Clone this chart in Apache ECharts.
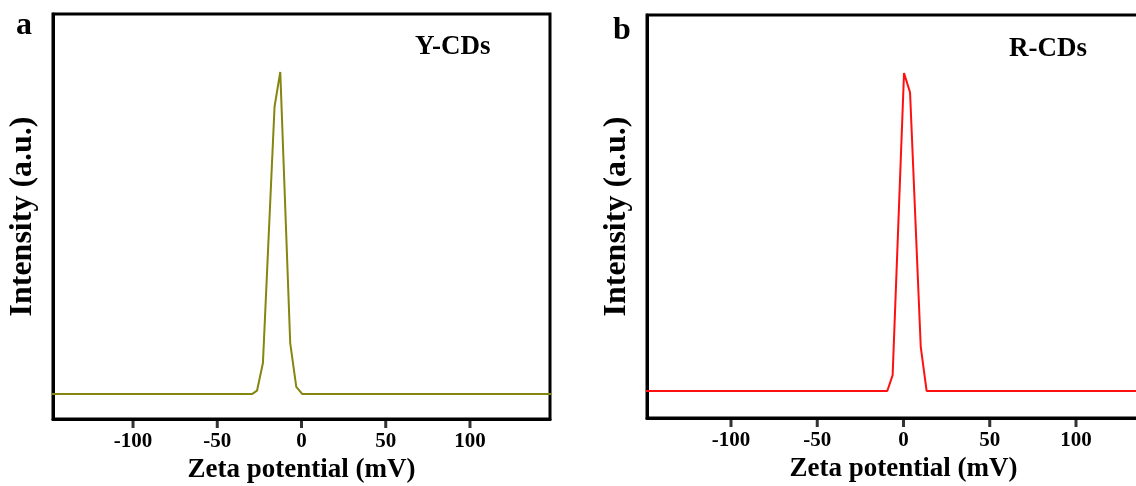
<!DOCTYPE html>
<html>
<head>
<meta charset="utf-8">
<script src="https://cdn.jsdelivr.net/npm/echarts@6/dist/echarts.min.js"></script>
<style>
html,body{margin:0;padding:0;background:#fff;}
#chart{width:1136px;height:486px;}
</style>
</head>
<body>
<div id="chart"></div>
<script>
// Data
const yCdsX = [-150, -29.2, -26.4, -22.9, -16.0, -12.6, -6.7, -3.1, 0.4, 150];
const yCdsY = [0, 0, 1.0, 9.6, 89.2, 100, 15.8, 2.2, 0, 0];
const rCdsX = [-150, -9.4, -6.3, 0.3, 3.8, 10.0, 13.4, 150];
const rCdsY = [0, 0, 5.0, 100, 93.9, 13.9, 0, 0];
const xTickValues = [-100, -50, 0, 50, 100];
const xTitle = 'Zeta potential (mV)';
const yTitle = 'Intensity (a.u.)';
const panelNames = ['Y-CDs', 'R-CDs'];
const panelLetters = ['a', 'b'];

const FONT = '"Liberation Serif", "Times New Roman", serif';
const pairs = (xs, ys) => xs.map((x, i) => [x, ys[i]]);
const tMin = xTickValues[0], tMax = xTickValues[xTickValues.length - 1], tStep = xTickValues[1] - xTickValues[0];

// main panels
const P = [
  {left: 53, top: 14, width: 497, height: 405, xmin: -147.5, xmax: 147.5, ymin: -7.8, ymax: 118},
  {left: 647, top: 15, width: 513, height: 403, xmin: -148.7, xmax: 148.7, ymin: -8.5, ymax: 118.3}
];
const TICK_LEN = 9;

const grids = [], xAxes = [], yAxes = [], series = [];
P.forEach((p, i) => {
  grids.push({left: p.left, top: p.top, width: p.width, height: p.height, show: true, borderColor: '#000', borderWidth: 3, backgroundColor: 'transparent', containLabel: false, outerBoundsMode: 'none'});
  xAxes.push({
    type: 'value', gridIndex: i, min: p.xmin, max: p.xmax,
    name: xTitle, nameLocation: 'middle', nameGap: 38,
    nameTextStyle: {fontFamily: FONT, fontWeight: 'bold', fontSize: 27, color: '#000'},
    axisLine: {show: true, onZero: false, lineStyle: {color: '#000', width: 3}},
    axisTick: {show: false}, axisLabel: {show: false}, splitLine: {show: false}
  });
  yAxes.push({
    type: 'value', gridIndex: i, min: p.ymin, max: p.ymax,
    name: yTitle, nameLocation: 'middle', nameGap: 14, nameRotate: 90,
    nameTextStyle: {fontFamily: FONT, fontWeight: 'bold', fontSize: 32, color: '#000'},
    axisLine: {show: true, onZero: false, lineStyle: {color: '#000', width: 3}},
    axisTick: {show: false}, axisLabel: {show: false}, splitLine: {show: false}
  });
});
// thin tick strips under each panel, spanning exactly the tick range on the same scale
P.forEach((p, i) => {
  const pxPer = p.width / (p.xmax - p.xmin);
  const gi = grids.length;
  grids.push({left: p.left + (tMin - p.xmin) * pxPer, top: p.top + p.height, width: (tMax - tMin) * pxPer, height: TICK_LEN, show: false, containLabel: false, outerBoundsMode: 'none'});
  xAxes.push({
    type: 'value', gridIndex: gi, min: tMin, max: tMax, interval: tStep,
    axisLine: {show: false, onZero: false}, axisTick: {show: false},
    axisLabel: {show: true, margin: 3, fontFamily: FONT, fontWeight: 'bold', fontSize: 21, color: '#000'},
    splitLine: {show: false}
  });
  yAxes.push({type: 'value', gridIndex: gi, min: 0, max: 1, show: false});
  series.push({
    type: 'scatter', xAxisIndex: gi, yAxisIndex: gi, silent: true, clip: false,
    symbol: 'rect', symbolSize: [3, TICK_LEN],
    itemStyle: {color: '#000'},
    data: xTickValues.map(v => [v, 0.5])
  });
});

series.unshift(
  {type: 'line', name: panelNames[0], xAxisIndex: 0, yAxisIndex: 0, data: pairs(yCdsX, yCdsY), symbol: 'none', clip: true, lineStyle: {color: '#858510', width: 2}},
  {type: 'line', name: panelNames[1], xAxisIndex: 1, yAxisIndex: 1, data: pairs(rCdsX, rCdsY), symbol: 'none', clip: true, lineStyle: {color: '#ff1010', width: 2}}
);

const chart = echarts.init(document.getElementById('chart'), null, {renderer: 'canvas'});
chart.setOption({
  backgroundColor: '#fff',
  animation: false,
  grid: grids,
  title: [
    {text: panelLetters[0], left: 11, top: 5, textStyle: {fontFamily: FONT, fontWeight: 'bold', fontSize: 32, color: '#000'}},
    {text: panelLetters[1], left: 608, top: 10, textStyle: {fontFamily: FONT, fontWeight: 'bold', fontSize: 32, color: '#000'}},
    {text: panelNames[0], left: 410, top: 29, textStyle: {fontFamily: FONT, fontWeight: 'bold', fontSize: 27, color: '#000'}},
    {text: panelNames[1], left: 1004, top: 31, textStyle: {fontFamily: FONT, fontWeight: 'bold', fontSize: 27, color: '#000'}}
  ],
  xAxis: xAxes,
  yAxis: yAxes,
  series: series
});
</script>
</body>
</html>
